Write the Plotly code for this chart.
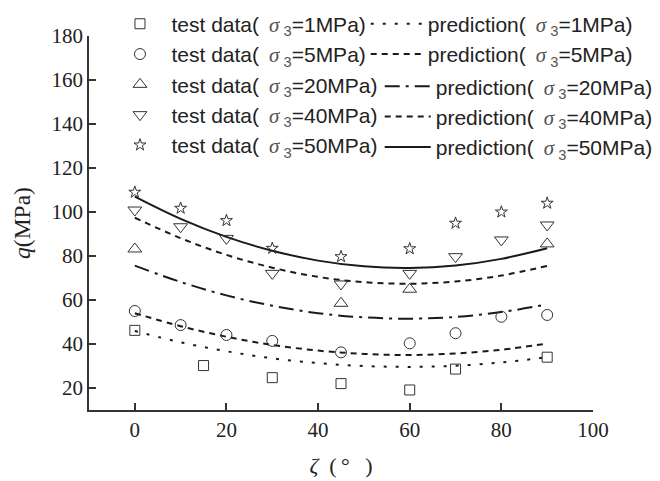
import plotly.graph_objects as go

# ---- data ----
zeta_pts = [0, 10, 20, 30, 45, 60, 70, 80, 90]
zeta_1 = [0, 15, 30, 45, 60, 70, 90]
zeta_20 = [0, 45, 60, 90]
test_1 = [46.2, 30.2, 24.7, 22.0, 19.1, 28.6, 34.0]
test_5 = [55.0, 48.6, 44.1, 41.4, 36.2, 40.3, 44.9, 52.4, 53.2]
test_20 = [83.2, 58.5, 64.9, 85.5]
test_40 = [100.9, 93.3, 88.0, 72.1, 67.3, 72.1, 79.7, 87.3, 94.1]
test_50 = [109.0, 101.7, 96.1, 83.5, 79.7, 83.3, 94.9, 100.0, 104.0]

zeta_pred = [0, 10, 20, 30, 40, 50, 60, 70, 80, 90]
pred_1 = [45.9, 40.8, 36.7, 33.5, 31.3, 30.0, 29.6, 30.1, 31.6, 34.0]
pred_5 = [54.0, 48.1, 43.3, 39.6, 37.0, 35.5, 35.0, 35.7, 37.4, 40.2]
pred_20 = [75.6, 68.2, 62.1, 57.4, 54.0, 52.1, 51.5, 52.3, 54.5, 58.0]
pred_40 = [97.4, 88.1, 80.5, 74.7, 70.5, 68.1, 67.4, 68.4, 71.1, 75.5]
pred_50 = [107.0, 96.9, 88.7, 82.4, 77.9, 75.3, 74.6, 75.7, 78.7, 83.5]

labels = ["1", "5", "20", "40", "50"]
x_ticks = [0, 20, 40, 60, 80, 100]
y_ticks = [20, 40, 60, 80, 100, 120, 140, 160, 180]

MK = "#333333"
LN = "#1a1a1a"


def lab(kind, s):
    return (f"{kind}( \u2009<span style='font-family:Liberation Serif;color:#555'><i>σ</i></span>"
            f"<sub><span style='color:#555'> 3</span></sub>={s}MPa)")


fig = go.Figure()

tests = [
    (zeta_1, test_1, "square-open", 10),
    (zeta_pts, test_5, "circle-open", 11),
    (zeta_20, test_20, "triangle-up-open", 12),
    (zeta_pts, test_40, "triangle-down-open", 12),
    (zeta_pts, test_50, "star-open", 9),
]
preds = [
    (pred_1, "3px,9px"),
    (pred_5, "6px,5px"),
    (pred_20, "15px,6px,3px,6px"),
    (pred_40, "6px,5px"),
    (pred_50, "solid"),
]

for i, ((xs, ys, sym, sz), (py, dash)) in enumerate(zip(tests, preds)):
    fig.add_trace(go.Scatter(
        x=zeta_pred, y=py, mode="lines", name=lab("prediction", labels[i]),
        line=dict(color=LN, width=2, dash=dash, shape="spline"),
        legend="legend2" if i < 2 else "legend3", legendgroup=f"p{i}"))
for i, ((xs, ys, sym, sz), (py, dash)) in enumerate(zip(tests, preds)):
    fig.add_trace(go.Scatter(
        x=xs, y=ys, mode="markers", name=lab("test data", labels[i]),
        marker=dict(symbol=sym, size=sz, color=MK, line=dict(width=1, color=MK)),
        legend="legend", legendgroup=f"t{i}"))

# the page puts the figure 8px from the top-left corner; margins compensate
ML, MR, MT, MB = 81, 74.5, 28, 79.3
PW = 660 - ML - MR
PH = 481 - MT - MB
ROW = 31.25
YTOP = 1.1 - 5.0 / PH

legfont = dict(family="Liberation Sans, Arial", size=21, color="#222")
common = dict(yanchor="top", xanchor="left", font=legfont,
              bgcolor="rgba(0,0,0,0)", tracegroupgap=0)
serif = "Liberation Serif, Times New Roman"
fig.update_layout(
    width=660, height=481,
    margin=dict(l=ML, r=MR, t=MT, b=MB, autoexpand=False),
    paper_bgcolor="white", plot_bgcolor="white",
    showlegend=True,
    legend=dict(x=(100.5 - ML) / PW, y=YTOP, itemwidth=53, **common),
    legend2=dict(x=(358 - ML) / PW, y=YTOP, itemwidth=52, **common),
    legend3=dict(x=(372 - ML) / PW, y=YTOP - 2 * ROW / PH, itemwidth=46, **common),
    xaxis=dict(range=[-10, 100], tickvals=x_ticks, ticks="inside", ticklen=7,
               tickwidth=1.5, tickcolor="#333", showline=True, linecolor="#333",
               linewidth=1.5, showgrid=False, zeroline=False, automargin=False,
               tickfont=dict(family=serif, size=21, color="#222"),
               title=dict(text="<i>ζ</i>\u2002(\u2009°\u2002\u2009)", standoff=17,
                          font=dict(family=serif, size=22, color="#222"))),
    yaxis=dict(range=[10, 180], tickvals=y_ticks, ticks="inside", ticklen=7,
               tickwidth=1.5, tickcolor="#333", showline=True, linecolor="#333",
               linewidth=1.5, showgrid=False, zeroline=False, automargin=False,
               tickfont=dict(family=serif, size=21, color="#222"),
               title=dict(text="<i>q</i>(MPa)\u2003", standoff=14,
                          font=dict(family=serif, size=23.5, color="#222"))),
)

fig.write_html("out.html")
